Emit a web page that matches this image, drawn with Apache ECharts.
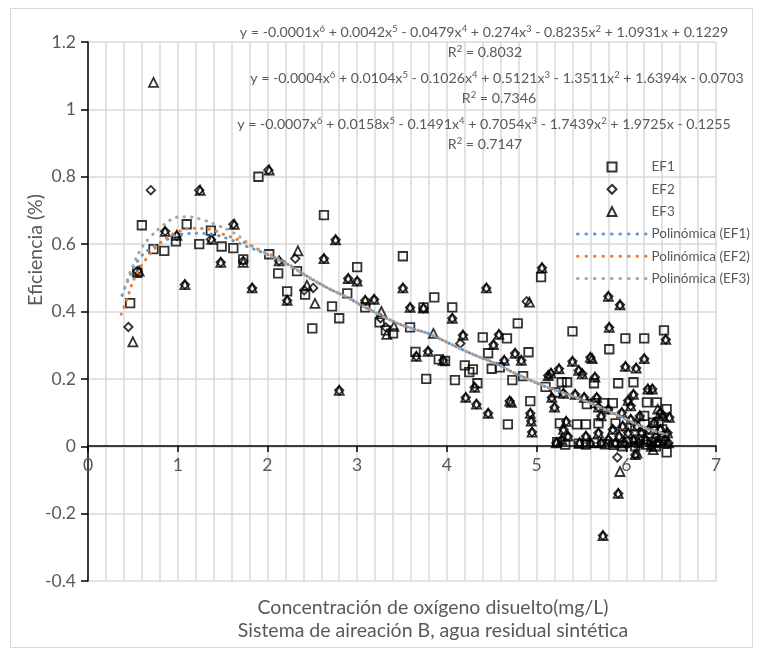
<!DOCTYPE html>
<html>
<head>
<meta charset="utf-8">
<script src="https://cdn.jsdelivr.net/npm/echarts@6/dist/echarts.min.js"></script>
<style>html,body{margin:0;padding:0;background:#fff;}#c{width:760px;height:653px;}</style>
</head>
<body>
<div id="c"></div>
<script>
// ---------- data ----------
const seriesNames = ['EF1', 'EF2', 'EF3'];
const trendNames = ['Polinómica (EF1)', 'Polinómica (EF2)', 'Polinómica (EF3)'];
const yTicks = [-0.4, -0.2, 0, 0.2, 0.4, 0.6, 0.8, 1, 1.2];
const xTicks = [0, 1, 2, 3, 4, 5, 6, 7];

const ef1 = [
  [0.47,0.425],[0.55,0.515],[0.60,0.656],[0.73,0.585],[0.85,0.58],[0.98,0.608],[1.10,0.659],[1.24,0.60],
  [1.37,0.64],[1.49,0.593],[1.62,0.588],[1.73,0.555],[1.90,0.80],[2.02,0.57],[2.12,0.513],[2.22,0.46],
  [2.33,0.52],[2.42,0.45],[2.50,0.35],[2.63,0.686],[2.72,0.415],[2.80,0.38],[2.89,0.454],[3.00,0.532],
  [3.09,0.412],[3.25,0.368],[3.32,0.344],[3.40,0.335],[3.51,0.564],[3.59,0.353],[3.65,0.28],[3.74,0.412],
  [3.77,0.20],[3.86,0.442],[3.91,0.258],[3.98,0.253],[4.06,0.412],[4.09,0.196],[4.20,0.24],[4.25,0.22],
  [4.29,0.228],[4.34,0.187],[4.40,0.323],[4.46,0.276],[4.50,0.23],[4.59,0.234],[4.67,0.32],[4.68,0.065],
  [4.73,0.196],[4.79,0.365],[4.85,0.208],[4.91,0.279],[4.93,0.134],[5.05,0.502],[5.10,0.176],[5.21,0.16],
  [5.26,0.068],[5.28,0.19],[5.34,0.19],[5.40,0.341],[5.45,0.065],[5.55,0.065],[5.56,0.125],[5.64,0.187],
  [5.65,0.128],[5.69,0.068],[5.75,0.128],[5.81,0.288],[5.85,0.128],[5.88,0.068],[5.91,0.187],[5.99,0.32],
  [6.08,0.19],[6.20,0.32],[6.23,0.13],[6.34,0.13],[6.36,0.07],[6.42,0.344],[6.45,0.11],[6.45,-0.018],
  [5.23,0.012],[5.32,0.005],[5.47,0.008],[5.55,0.005],[5.64,0.01],[5.76,0.006],[5.86,0.004],[5.95,0.0],
  [6.02,0.012],[6.10,0.0],[6.15,0.02],[6.22,0.005],[6.28,0.012],[6.33,0.0],[6.38,0.016],[6.42,0.03],
  [6.10,0.06],[6.30,0.07],[6.20,0.09],[6.40,0.05]
];

const ef2 = [
  [0.45,0.354],[0.55,0.52],[0.70,0.76],[0.86,0.638],[0.99,0.625],[1.08,0.48],[1.24,0.76],[1.37,0.614],
  [1.48,0.546],[1.62,0.659],[1.73,0.55],[1.83,0.47],[2.01,0.82],[2.13,0.55],[2.22,0.433],[2.31,0.557],
  [2.41,0.463],[2.51,0.47],[2.63,0.557],[2.76,0.613],[2.80,0.166],[2.90,0.498],[3.00,0.49],[3.09,0.433],
  [3.19,0.436],[3.26,0.38],[3.32,0.353],[3.51,0.47],[3.59,0.412],[3.66,0.267],[3.74,0.41],[3.79,0.282],
  [3.96,0.255],[4.06,0.38],[4.15,0.305],[4.18,0.33],[4.21,0.145],[4.31,0.175],[4.33,0.125],[4.44,0.47],
  [4.46,0.098],[4.52,0.302],[4.58,0.332],[4.64,0.255],[4.70,0.134],[4.76,0.276],[4.83,0.255],[4.89,0.43],
  [4.93,0.098],[4.94,0.075],[4.95,0.042],[5.06,0.53],[5.13,0.21],[5.16,0.217],[5.25,0.23],[5.17,0.145],
  [5.20,0.116],[5.30,0.157],[5.40,0.252],[5.43,0.154],[5.47,0.225],[5.51,0.215],[5.53,0.145],[5.60,0.264],
  [5.65,0.205],[5.67,0.145],[5.69,0.116],[5.80,0.445],[5.93,0.42],[5.81,0.353],[5.99,0.237],[6.11,0.232],
  [6.20,0.26],[6.02,0.136],[6.08,0.154],[6.24,0.17],[6.29,0.17],[6.44,0.317],[6.48,0.086],[6.38,0.10],
  [5.74,-0.265],[5.91,-0.14],[5.90,-0.033],[6.10,-0.025],[5.33,0.074],[5.72,0.09],[5.80,0.11],[5.95,0.10],
  [6.05,0.12],[6.15,0.09],
  [5.22,0.01],[5.28,0.02],[5.30,0.05],[5.35,0.03],[5.48,0.01],[5.55,0.03],[5.60,0.01],[5.69,0.04],
  [5.72,0.01],[5.80,0.02],[5.85,0.05],[5.88,0.01],[5.92,0.03],[5.96,0.06],[5.98,0.01],[6.02,0.04],
  [6.05,0.08],[6.08,0.02],[6.12,0.06],[6.14,0.01],[6.17,0.04],[6.22,0.02],[6.25,0.05],[6.28,0.0],
  [6.31,0.07],[6.33,0.03],[6.35,0.01],[6.38,0.05],[6.41,0.09],[6.43,0.02],[6.46,0.04],[6.47,0.01]
];

const ef3 = [
  [0.50,0.31],[0.57,0.52],[0.73,1.08],[0.86,0.638],[0.99,0.626],[1.08,0.48],[1.25,0.76],[1.38,0.614],
  [1.48,0.546],[1.63,0.659],[1.73,0.546],[1.83,0.47],[2.02,0.82],[2.13,0.55],[2.22,0.433],[2.34,0.58],
  [2.44,0.478],[2.53,0.424],[2.63,0.557],[2.76,0.613],[2.80,0.166],[2.90,0.498],[3.00,0.49],[3.09,0.433],
  [3.19,0.436],[3.27,0.40],[3.33,0.332],[3.41,0.356],[3.51,0.47],[3.59,0.412],[3.66,0.267],[3.74,0.41],
  [3.79,0.282],[3.85,0.335],[3.96,0.255],[4.06,0.38],[4.18,0.33],[4.21,0.145],[4.31,0.175],[4.33,0.125],
  [4.44,0.47],[4.46,0.098],[4.52,0.302],[4.58,0.332],[4.64,0.255],[4.70,0.134],[4.72,0.13],[4.76,0.276],
  [4.83,0.255],[4.92,0.428],[4.93,0.098],[4.94,0.075],[4.95,0.042],[5.06,0.53],[5.13,0.21],[5.16,0.217],
  [5.25,0.23],[5.17,0.145],[5.20,0.116],[5.30,0.157],[5.40,0.252],[5.43,0.154],[5.47,0.225],[5.51,0.215],
  [5.53,0.145],[5.60,0.264],[5.62,0.26],[5.65,0.205],[5.67,0.145],[5.69,0.116],[5.80,0.445],[5.93,0.42],
  [5.81,0.353],[5.99,0.237],[6.11,0.232],[6.20,0.26],[6.02,0.136],[6.08,0.154],[6.24,0.17],[6.29,0.17],
  [6.44,0.317],[6.48,0.086],[6.38,0.10],[6.35,0.11],[5.74,-0.265],[5.91,-0.14],[5.93,-0.075],[6.10,-0.025],
  [5.33,0.074],[5.72,0.09],[5.80,0.11],[5.95,0.10],[6.05,0.12],[6.15,0.09],
  [5.22,0.01],[5.28,0.02],[5.30,0.05],[5.35,0.03],[5.48,0.01],[5.55,0.03],[5.60,0.01],[5.69,0.04],
  [5.72,0.01],[5.80,0.02],[5.85,0.05],[5.88,0.01],[5.92,0.03],[5.96,0.06],[5.98,0.01],[6.02,0.04],
  [6.05,0.08],[6.08,0.02],[6.12,0.06],[6.14,0.01],[6.17,0.04],[6.22,0.02],[6.25,0.05],[6.28,0.0],
  [6.31,0.07],[6.33,0.03],[6.35,0.01],[6.38,0.05],[6.41,0.09],[6.43,0.02],[6.46,0.04],[6.47,0.01],
  [6.12,-0.02],[6.30,-0.01]
];

const trend1 = [
  [0.38,0.448],[0.47,0.507],[0.58,0.56],[0.73,0.593],[0.88,0.614],[1.03,0.629],[1.23,0.632],[1.39,0.629],
  [1.58,0.614],[1.77,0.593],[1.94,0.576],[2.14,0.553],[2.33,0.523],[2.51,0.494],[2.70,0.466],[2.89,0.442],
  [3.07,0.415],[3.26,0.389],[3.44,0.366],[3.62,0.349],[3.81,0.333],[4.00,0.309],[4.18,0.286],[4.37,0.264],
  [4.56,0.244],[4.74,0.219],[4.93,0.196],[5.12,0.175],[5.30,0.158],[5.48,0.141],[5.67,0.12],[5.85,0.099],
  [6.03,0.077],[6.22,0.054],[6.45,0.034]
];
const trend2 = [
  [0.37,0.392],[0.43,0.433],[0.52,0.50],[0.66,0.56],[0.84,0.611],[0.99,0.635],[1.17,0.647],[1.36,0.644],
  [1.51,0.629],[1.69,0.611],[1.88,0.587],[2.14,0.555],[2.33,0.524],[2.51,0.494],[2.70,0.466],[2.89,0.442],
  [3.07,0.416],[3.26,0.389],[3.44,0.366],[3.62,0.349],[3.81,0.333],[4.00,0.309],[4.18,0.286],[4.37,0.264],
  [4.56,0.244],[4.74,0.219],[4.93,0.196],[5.12,0.175],[5.30,0.158],[5.48,0.141],[5.67,0.12],[5.85,0.098],
  [6.03,0.076],[6.22,0.054],[6.45,0.036]
];
const trend3 = [
  [0.41,0.472],[0.47,0.516],[0.58,0.581],[0.69,0.62],[0.84,0.656],[1.00,0.68],[1.10,0.681],[1.27,0.673],
  [1.44,0.656],[1.61,0.636],[1.77,0.606],[1.95,0.575],[2.14,0.550],[2.33,0.522],[2.51,0.493],[2.70,0.466],
  [2.89,0.442],[3.07,0.415],[3.26,0.389],[3.44,0.366],[3.62,0.349],[3.81,0.333],[4.00,0.309],[4.18,0.286],
  [4.37,0.264],[4.56,0.244],[4.74,0.219],[4.93,0.196],[5.12,0.175],[5.30,0.158],[5.48,0.141],[5.67,0.12],
  [5.85,0.098],[6.03,0.076],[6.22,0.053],[6.45,0.036]
];

const equations = [
  ['-0.0001','6',' + 0.0042','5',' - 0.0479','4',' + 0.274','3',' - 0.8235','2',' + 1.0931x + 0.1229'],
  ['-0.0004','6',' + 0.0104','5',' - 0.1026','4',' + 0.5121','3',' - 1.3511','2',' + 1.6394x - 0.0703'],
  ['-0.0007','6',' + 0.0158','5',' - 0.1491','4',' + 0.7054','3',' - 1.7439','2',' + 1.9725x - 0.1255']
];
const r2 = ['0.8032', '0.7346', '0.7147'];

// ---------- chart ----------
const FONT = 'Lato, "Open Sans", sans-serif';
const GRID = '#d9d9d9';
const TXT = '#595959';
const trendColors = ['#5B9BD5', '#ED7D31', '#A5A5A5'];

function eqRich(parts) {
  let s = '{n|y = ';
  for (let i = 0; i < parts.length; i++) {
    if (i % 2 === 0) {
      s += (i === 0 ? '' : '{n|') + parts[i] + (i < parts.length - 1 ? 'x}' : '}');
    } else {
      s += '{s|' + parts[i] + '}';
    }
  }
  return s;
}
const richStyle = {
  n: { fontSize: 14.2, fontFamily: FONT, fill: TXT, lineHeight: 17 },
  s: { fontSize: 9.5, fontFamily: FONT, fill: TXT, lineHeight: 11, verticalAlign: 'top' }
};

const eqPos = [[484, 32, 485, 52], [497, 78, 499, 98], [484, 124, 485, 144]];
const graphics = [
  { type: 'rect', shape: { x: 10.5, y: 8.5, width: 742, height: 639 }, style: { fill: 'none', stroke: GRID, lineWidth: 1 }, silent: true, z: -10 }
];
equations.forEach((p, i) => {
  graphics.push({ type: 'text', x: eqPos[i][0], y: eqPos[i][1], style: { text: eqRich(p), rich: richStyle, align: 'center', verticalAlign: 'middle' }, z: 50 });
  graphics.push({ type: 'text', x: eqPos[i][2], y: eqPos[i][3], style: { text: '{n|R}{s|2}{n| = ' + r2[i] + '}', rich: richStyle, align: 'center', verticalAlign: 'middle' }, z: 50 });
});
graphics.push({ type: 'text', x: 433, y: 608, style: { text: 'Concentración de oxígeno disuelto(mg/L)', font: '19.5px ' + FONT, fill: TXT, align: 'center', verticalAlign: 'middle' } });
graphics.push({ type: 'text', x: 433, y: 631, style: { text: 'Sistema de aireación B, agua residual sintética', font: '19.5px ' + FONT, fill: TXT, align: 'center', verticalAlign: 'middle' } });
graphics.push({ type: 'text', x: 36, y: 250, rotation: Math.PI / 2, style: { text: 'Eficiencia (%)', font: '19.5px ' + FONT, fill: TXT, align: 'center', verticalAlign: 'middle' } });

const scatterStyle = (sym, size) => ({
  type: 'scatter', symbol: sym, symbolSize: size,
  itemStyle: { color: 'rgba(0,0,0,0)', borderColor: '#000', borderWidth: 1.8 },
  z: 2
});
const trendStyle = (color) => ({
  type: 'line', smooth: 0.4, symbol: 'none', showSymbol: false, z: 4,
  lineStyle: { color: color, width: 3, type: [0.5, 7], cap: 'round' },
  itemStyle: { color: color }
});
const hiddenDot = { color: 'rgba(0,0,0,0)', borderWidth: 0, borderColor: 'rgba(0,0,0,0)' };
const legendLine = (color) => ({ color: color, width: 3, type: [0.5, 8], cap: 'round' });

const chart = echarts.init(document.getElementById('c'), null, { renderer: 'canvas' });
chart.setOption({
  animation: false,
  backgroundColor: '#fff',
  textStyle: { fontFamily: FONT },
  grid: { left: 88, right: 44, top: 42, bottom: 72, containLabel: false },
  legend: {
    orient: 'vertical', left: 571, top: 155,
    itemWidth: 69, itemHeight: 9, itemGap: 8.3,
    symbolKeepAspect: true,
    textStyle: { fontSize: 13.5, color: TXT, fontFamily: FONT },
    data: [
      { name: seriesNames[0], icon: 'path://M0,0H10V10H0Z' },
      { name: seriesNames[1], icon: 'path://M5,0L10,5L5,10L0,5Z' },
      { name: seriesNames[2], icon: 'path://M5,0L10,10H0Z' },
      { name: trendNames[0], itemStyle: hiddenDot, lineStyle: legendLine(trendColors[0]) },
      { name: trendNames[1], itemStyle: hiddenDot, lineStyle: legendLine(trendColors[1]) },
      { name: trendNames[2], itemStyle: hiddenDot, lineStyle: legendLine(trendColors[2]) }
    ]
  },
  xAxis: {
    type: 'value', min: xTicks[0], max: xTicks[xTicks.length - 1], interval: 1,
    position: 'bottom', offset: -135,
    axisLine: { onZero: false, lineStyle: { color: '#000', width: 1.5 } },
    axisTick: { show: true, length: 6, lineStyle: { color: '#000', width: 1.5 } },
    axisLabel: { fontSize: 17.5, color: TXT, fontFamily: FONT, margin: 10 },
    splitLine: { show: true, lineStyle: { color: GRID, width: 1.5 } },
    minorTick: { show: false, splitNumber: 5 },
    minorSplitLine: { show: true, lineStyle: { color: GRID, width: 1.5 } }
  },
  yAxis: {
    type: 'value', min: yTicks[0], max: yTicks[yTicks.length - 1], interval: 0.2,
    axisLine: { show: true, onZero: false, lineStyle: { color: '#000', width: 1.5 } },
    axisTick: { show: true, length: 7, lineStyle: { color: '#000', width: 1.5 } },
    axisLabel: { fontSize: 17.5, color: TXT, fontFamily: FONT, margin: 12, formatter: v => String(+v.toFixed(1)) },
    splitLine: { show: true, lineStyle: { color: GRID, width: 1.5 } }
  },
  graphic: graphics,
  series: [
    Object.assign({ name: seriesNames[0], data: ef1 }, scatterStyle('rect', 8.5)),
    Object.assign({ name: seriesNames[1], data: ef2 }, scatterStyle('diamond', 8.5)),
    Object.assign({ name: seriesNames[2], data: ef3 }, scatterStyle('triangle', 9)),
    Object.assign({ name: trendNames[0], data: trend1 }, trendStyle(trendColors[0])),
    Object.assign({ name: trendNames[1], data: trend2 }, trendStyle(trendColors[1])),
    Object.assign({ name: trendNames[2], data: trend3 }, trendStyle(trendColors[2]))
  ]
});
</script>
</body>
</html>
